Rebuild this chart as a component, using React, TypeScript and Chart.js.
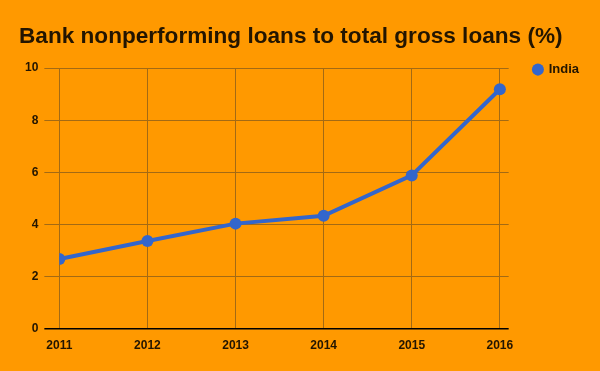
import React, { useEffect, useRef } from "react";
import { Chart, registerables } from "chart.js";

Chart.register(...registerables);

const years = [2011, 2012, 2013, 2014, 2015, 2016];
const indiaValues = [2.67, 3.36, 4.03, 4.33, 5.88, 9.19];
const yTicks = [0, 2, 4, 6, 8, 10];
const seriesName = "India";
const titleText = "Bank nonperforming loans to total gross loans (%)";

const TEXT = "#231500";
const GRID = "#a36a14";
const LINE = "#3366cc";
const BG = "#ff9900";
const FONT = "'Liberation Sans', Arial, sans-serif";

const legendNudge = {
  id: "legendNudge",
  afterLayout(chart: any) {
    const lg = chart.legend;
    if (!lg) return;
    const shift = lg.top - (chart.chartArea.top - 5 - 22);
    lg.top -= shift;
    lg.bottom -= shift;
    lg.left += 3;
    lg.right += 3;
  },
};

export default function App() {
  const ref = useRef<HTMLCanvasElement | null>(null);
  useEffect(() => {
    if (!ref.current) return;
    const chart = new Chart(ref.current, {
      type: "line",
      data: {
        datasets: [
          {
            label: seriesName,
            data: years.map((y, i) => ({ x: y, y: indiaValues[i] })),
            borderColor: LINE,
            backgroundColor: LINE,
            borderWidth: 4,
            pointRadius: 6,
            pointHoverRadius: 6,
            pointBorderWidth: 0,
            pointStyle: "circle",
            tension: 0,
          },
        ],
      },
      options: {
        animation: false,
        responsive: false,
        maintainAspectRatio: false,
        layout: { padding: { left: 19, right: 14, top: 0, bottom: 8 } },
        plugins: {
          title: {
            display: true,
            text: titleText,
            align: "start",
            color: TEXT,
            font: { family: FONT, size: 22.6, weight: "bold" },
            padding: { top: 23, bottom: 18 },
          },
          legend: {
            position: "right",
            align: "start",
            fullSize: false,
            labels: {
              usePointStyle: true,
              pointStyle: "circle",
              boxWidth: 8.5,
              boxHeight: 8.5,
              color: TEXT,
              font: { family: FONT, size: 13, weight: "bold" },
              padding: 22,
            },
          },
          tooltip: { enabled: false },
        },
        scales: {
          x: {
            type: "linear",
            min: 2011,
            max: 2016.1,
            afterBuildTicks: (axis: any) => {
              axis.ticks = years.map((v) => ({ value: v }));
            },
            ticks: {
              color: TEXT,
              font: { family: FONT, size: 12, weight: "bold" },
              padding: 10,
              maxRotation: 0,
              autoSkip: false,
              callback: (v: any) => String(v),
            },
            grid: { color: GRID, lineWidth: 1, drawTicks: false },
            border: { display: false },
          },
          y: {
            min: 0,
            max: 10,
            afterBuildTicks: (axis: any) => {
              axis.ticks = yTicks.map((v) => ({ value: v }));
            },
            ticks: {
              color: TEXT,
              font: { family: FONT, size: 12, weight: "bold" },
              padding: 6,
            },
            grid: {
              color: (ctx: any) => (ctx.tick && ctx.tick.value === 0 ? "#000000" : GRID),
              lineWidth: (ctx: any) => (ctx.tick && ctx.tick.value === 0 ? 1.5 : 1),
              tickLength: 15,
            },
            border: { display: false },
          },
        },
      },
      plugins: [legendNudge],
    });
    return () => chart.destroy();
  }, []);
  return (
    <div style={{ position: "fixed", left: 0, top: 0, width: 600, height: 371, background: BG }}>
      <canvas ref={ref} width={600} height={371} style={{ display: "block" }} />
    </div>
  );
}
